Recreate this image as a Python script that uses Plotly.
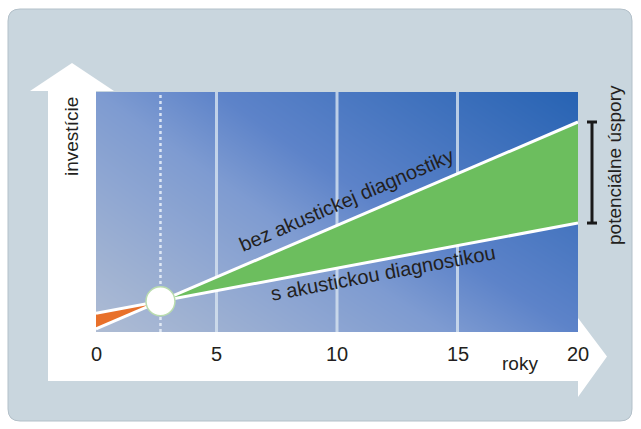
import math
import plotly.graph_objects as go

# ---- data ----
years = [0, 20]
bez_diag = [1.3, 87.5]      # investment without acoustic diagnostics
s_diag = [7.8, 45.4]        # investment with acoustic diagnostics
tick_years = [0, 5, 10, 15, 20]
tick_labels = ["0", "5", "10", "15", "20"]

W, H = 641, 429
# plot area in pixels
PX0, PX1, PY0, PY1 = 96, 578, 92, 332
YMAX = 100


def px(x):
    return x / W


def py(y):
    return 1 - y / H


def interp(vals, x):
    return vals[0] + (vals[1] - vals[0]) * (x - years[0]) / (years[1] - years[0])


# break-even point of the two lines
slope_b = (bez_diag[1] - bez_diag[0]) / (years[1] - years[0])
slope_s = (s_diag[1] - s_diag[0]) / (years[1] - years[0])
x_cross = (s_diag[0] - bez_diag[0]) / (slope_b - slope_s)
y_cross = interp(bez_diag, x_cross)

# pixel scale for label angles
sx = (PX1 - PX0) / (years[1] - years[0])
sy = (PY1 - PY0) / YMAX
ang_b = math.degrees(math.atan(slope_b * sy / sx))
ang_s = math.degrees(math.atan(slope_s * sy / sx))

fig = go.Figure()

# gradient background of the plot area
fig.add_trace(go.Heatmap(
    x=[years[0], years[1]], y=[0, YMAX],
    z=[[0.0, 0.55], [0.4, 1.0]],
    colorscale=[[0, "#aebcd3"], [0.4, "#7e9bd1"], [0.55, "#5d83c9"], [1, "#2763b3"]],
    zsmooth="best", showscale=False, hoverinfo="skip",
))

# vertical grid lines (under the filled areas)
for t in tick_years[1:-1]:
    fig.add_trace(go.Scatter(x=[t, t], y=[0, YMAX], mode="lines",
                             line=dict(color="rgba(215,228,240,0.8)", width=3),
                             hoverinfo="skip"))
# dotted break-even line
fig.add_trace(go.Scatter(x=[x_cross, x_cross], y=[0, YMAX], mode="lines",
                         line=dict(color="rgba(235,242,250,0.85)", width=2.5, dash="dot"),
                         hoverinfo="skip"))

# orange region (before break-even)
fig.add_trace(go.Scatter(x=[years[0], x_cross], y=[bez_diag[0], y_cross],
                         mode="lines", line=dict(width=0), hoverinfo="skip"))
fig.add_trace(go.Scatter(x=[years[0], x_cross], y=[s_diag[0], y_cross],
                         mode="lines", line=dict(width=0), fill="tonexty",
                         fillcolor="#e8702a", hoverinfo="skip"))
# green region (savings)
fig.add_trace(go.Scatter(x=[x_cross, years[1]], y=[y_cross, s_diag[1]],
                         mode="lines", line=dict(width=0), hoverinfo="skip"))
fig.add_trace(go.Scatter(x=[x_cross, years[1]], y=[y_cross, bez_diag[1]],
                         mode="lines", line=dict(width=0), fill="tonexty",
                         fillcolor="#6cbe5e", hoverinfo="skip"))
# white lines
fig.add_trace(go.Scatter(x=years, y=bez_diag, mode="lines",
                         line=dict(color="white", width=3), hoverinfo="skip"))
fig.add_trace(go.Scatter(x=years, y=s_diag, mode="lines",
                         line=dict(color="white", width=3), hoverinfo="skip"))
# break-even marker
fig.add_trace(go.Scatter(x=[x_cross], y=[y_cross], mode="markers",
                         marker=dict(size=29, color="white",
                                     line=dict(color="#b9dcae", width=1.5)),
                         hoverinfo="skip"))

shapes = []
# card
r = 12
x0, y0, x1, y1 = 8, 9, 632, 421
card = (f"M {px(x0+r)},{py(y0)} L {px(x1-r)},{py(y0)} "
        f"Q {px(x1)},{py(y0)} {px(x1)},{py(y0+r)} L {px(x1)},{py(y1-r)} "
        f"Q {px(x1)},{py(y1)} {px(x1-r)},{py(y1)} L {px(x0+r)},{py(y1)} "
        f"Q {px(x0)},{py(y1)} {px(x0)},{py(y1-r)} L {px(x0)},{py(y0+r)} "
        f"Q {px(x0)},{py(y0)} {px(x0+r)},{py(y0)} Z")
shapes.append(dict(type="path", path=card, xref="paper", yref="paper",
                   fillcolor="#c9d6de", line=dict(color="#b3c0c9", width=1), layer="below"))
# white axis arrows
up = (f"M {px(48)},{py(381)} L {px(48)},{py(91)} L {px(30)},{py(91)} "
      f"L {px(72)},{py(63)} L {px(114)},{py(91)} L {px(96)},{py(91)} "
      f"L {px(96)},{py(381)} Z")
right = (f"M {px(48)},{py(332)} L {px(578)},{py(332)} L {px(578)},{py(318)} "
         f"L {px(607)},{py(356.5)} L {px(578)},{py(397)} L {px(578)},{py(381)} "
         f"L {px(48)},{py(381)} Z")
for p in (up, right):
    shapes.append(dict(type="path", path=p, xref="paper", yref="paper",
                       fillcolor="white", line=dict(width=0), layer="below"))
# savings bracket
bx = px(592)
cap = 5 / W
shapes.append(dict(type="line", x0=bx, x1=bx, y0=s_diag[1], y1=bez_diag[1],
                   xref="paper", yref="y", line=dict(color="#1a1a1a", width=3)))
for v in (s_diag[1], bez_diag[1]):
    shapes.append(dict(type="line", x0=bx - cap, x1=bx + cap, y0=v, y1=v,
                       xref="paper", yref="y", line=dict(color="#1a1a1a", width=3)))

font = "Liberation Sans, Arial, sans-serif"
tc = "#231f20"
ann = []
for t, lab in zip(tick_years, tick_labels):
    ann.append(dict(x=t, y=py(354), xref="x", yref="paper", text=lab, showarrow=False,
                    xanchor="center", yanchor="middle", font=dict(size=20, color=tc, family=font)))
ann.append(dict(x=px(520), y=py(363), xref="paper", yref="paper", text="roky", showarrow=False,
                xanchor="center", yanchor="middle", font=dict(size=19, color=tc, family=font)))
ann.append(dict(x=px(72), y=py(137), xref="paper", yref="paper", text="investície",
                showarrow=False, textangle=-90, xanchor="center", yanchor="middle",
                font=dict(size=19, color=tc, family=font)))
ann.append(dict(x=px(615), y=py(165), xref="paper", yref="paper", text="potenciálne úspory",
                showarrow=False, textangle=-90, xanchor="center", yanchor="middle",
                font=dict(size=19, color=tc, family=font)))
xb = 10.4
ann.append(dict(x=xb, y=interp(bez_diag, xb), xref="x", yref="y", yshift=21,
                text="bez akustickej diagnostiky", showarrow=False, textangle=-ang_b,
                xanchor="center", yanchor="middle", font=dict(size=20, color=tc, family=font)))
xs = 11.9
ann.append(dict(x=xs, y=interp(s_diag, xs), xref="x", yref="y", yshift=-13,
                text="s akustickou diagnostikou", showarrow=False, textangle=-ang_s,
                xanchor="center", yanchor="middle", font=dict(size=20, color=tc, family=font)))

fig.update_layout(
    width=W, height=H, margin=dict(l=0, r=0, t=0, b=0),
    paper_bgcolor="white", plot_bgcolor="rgba(0,0,0,0)",
    showlegend=False, shapes=shapes, annotations=ann,
    xaxis=dict(domain=[px(PX0), px(PX1)], range=[years[0], years[1]], visible=False, fixedrange=True),
    yaxis=dict(domain=[py(PY1), py(PY0)], range=[0, YMAX], visible=False, fixedrange=True),
)
fig.write_html("out.html")
